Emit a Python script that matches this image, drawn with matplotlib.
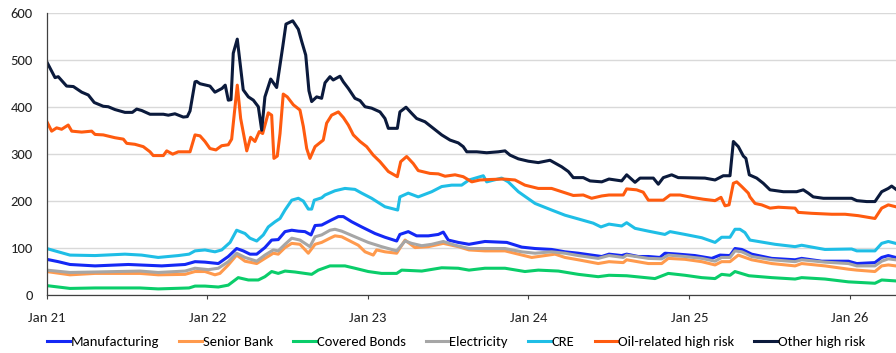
import matplotlib
matplotlib.use("Agg")
import matplotlib.pyplot as plt
import matplotlib.dates as mdates
import pandas as pd

# Spread series, bp. Times are decimal years.
manufacturing_t = [2021.000, 2021.072, 2021.145, 2021.301, 2021.508, 2021.716, 2021.861, 2021.923, 2021.985,
                   2022.068, 2022.130, 2022.182, 2022.223, 2022.265, 2022.307, 2022.358, 2022.400, 2022.441, 2022.483,
                   2022.525, 2022.566, 2022.607, 2022.645, 2022.670, 2022.711, 2022.773, 2022.815, 2022.846, 2022.898,
                   2022.960, 2023.043, 2023.105, 2023.178, 2023.198, 2023.250, 2023.302, 2023.375, 2023.437, 2023.468,
                   2023.499, 2023.561, 2023.628, 2023.727, 2023.863, 2023.956, 2024.039, 2024.142, 2024.225, 2024.308,
                   2024.412, 2024.454, 2024.499, 2024.578, 2024.609, 2024.681, 2024.744, 2024.816, 2024.847, 2024.930,
                   2025.034, 2025.138, 2025.190, 2025.252, 2025.283, 2025.325, 2025.345, 2025.387, 2025.512, 2025.657,
                   2025.698, 2025.823, 2025.989, 2026.041, 2026.154, 2026.196, 2026.237, 2026.283]
manufacturing_v = [76, 71, 65, 62, 65, 62, 65, 71, 70,
                   67, 82, 99, 94, 87, 87, 101, 117, 118, 135, 138, 136, 135, 128, 148, 149, 160, 167, 167, 156, 145,
                   131, 123, 115, 129, 135, 126, 126, 129, 134, 117, 112, 108, 114, 112, 102,
                   99, 97, 92, 89, 84, 82, 87, 84, 87, 82, 82, 80, 89, 87,
                   84, 78, 85, 84, 99, 97, 94, 87, 78, 75, 78, 72, 72,
                   67, 69, 80, 84, 80]

senior_bank_t = [2021.000, 2021.145, 2021.301, 2021.581, 2021.694, 2021.861, 2021.923, 2021.985,
                 2022.047, 2022.078, 2022.130, 2022.182, 2022.234, 2022.307, 2022.358, 2022.410, 2022.441, 2022.483,
                 2022.525, 2022.576, 2022.628, 2022.670, 2022.711, 2022.763, 2022.794, 2022.836, 2022.939, 2022.981,
                 2023.032, 2023.053, 2023.105, 2023.178, 2023.230, 2023.292, 2023.375, 2023.468, 2023.561, 2023.628,
                 2023.727, 2023.852, 2023.935,
                 2024.018, 2024.101, 2024.163, 2024.225, 2024.308, 2024.432, 2024.499, 2024.588, 2024.609, 2024.744,
                 2024.827, 2024.868, 2024.972,
                 2025.076, 2025.159, 2025.200, 2025.252, 2025.304, 2025.345, 2025.387, 2025.512, 2025.657, 2025.698,
                 2025.843, 2025.989, 2026.041, 2026.154, 2026.196, 2026.237, 2026.283]
senior_bank_v = [50, 43, 46, 46, 43, 44, 50, 50,
                 43, 46, 64, 85, 72, 67, 78, 89, 87, 101, 110, 108, 89, 108, 112, 121, 126, 124, 106, 92,
                 85, 96, 92, 89, 117, 101, 103, 110, 103, 96, 94, 94, 87,
                 80, 84, 87, 80, 75, 67, 71, 69, 75, 67, 67, 78, 76,
                 71, 64, 71, 71, 85, 80, 75, 67, 62, 67, 62, 55,
                 53, 50, 62, 64, 62]

covered_bonds_t = [2021.000, 2021.145, 2021.301, 2021.581, 2021.694, 2021.886, 2021.923, 2021.985,
                   2022.068, 2022.130, 2022.192, 2022.255, 2022.317, 2022.358, 2022.400, 2022.441, 2022.483, 2022.545,
                   2022.607, 2022.649, 2022.690, 2022.763, 2022.794, 2022.856, 2022.918,
                   2023.001, 2023.084, 2023.178, 2023.209, 2023.334, 2023.458, 2023.561, 2023.628, 2023.727, 2023.852,
                   2023.976,
                   2024.059, 2024.184, 2024.308, 2024.432, 2024.499, 2024.609, 2024.785, 2024.868, 2024.972,
                   2025.076, 2025.159, 2025.200, 2025.252, 2025.283, 2025.370, 2025.512, 2025.657, 2025.698, 2025.843,
                   2025.989, 2026.154, 2026.196, 2026.283]
covered_bonds_v = [20, 14, 15, 15, 13, 15, 19, 19,
                   17, 21, 37, 32, 32, 39, 50, 46, 51, 49, 46, 44, 53, 62, 62, 62, 57,
                   50, 46, 46, 53, 51, 58, 57, 53, 57, 57, 50,
                   53, 51, 44, 39, 42, 41, 35, 46, 42,
                   37, 35, 44, 42, 50, 41, 37, 34, 37, 34, 28,
                   25, 32, 30]

electricity_t = [2021.000, 2021.145, 2021.301, 2021.581, 2021.694, 2021.861, 2021.923,
                 2022.006, 2022.068, 2022.130, 2022.182, 2022.234, 2022.307, 2022.358, 2022.410, 2022.441, 2022.483,
                 2022.525, 2022.576, 2022.607, 2022.638, 2022.670, 2022.711, 2022.763, 2022.794, 2022.836, 2022.918,
                 2023.001, 2023.084, 2023.178, 2023.230, 2023.271, 2023.334, 2023.396, 2023.468, 2023.541, 2023.628,
                 2023.727, 2023.852, 2023.956,
                 2024.039, 2024.142, 2024.225, 2024.308, 2024.432, 2024.499, 2024.588, 2024.609, 2024.744, 2024.827,
                 2024.868, 2024.972,
                 2025.076, 2025.159, 2025.200, 2025.252, 2025.283, 2025.325, 2025.345, 2025.387, 2025.512, 2025.657,
                 2025.698, 2025.843, 2025.989, 2026.041, 2026.154, 2026.196, 2026.237, 2026.283]
electricity_v = [53, 48, 49, 51, 48, 51, 57,
                 54, 57, 71, 89, 80, 72, 85, 96, 94, 108, 121, 117, 110, 103, 124, 128, 138, 140, 136, 124,
                 112, 103, 94, 115, 110, 105, 108, 114, 106, 99, 99, 99, 92,
                 89, 92, 89, 84, 78, 84, 80, 85, 78, 77, 85, 82,
                 78, 72, 80, 80, 94, 92, 89, 82, 75, 71, 75, 70, 67,
                 62, 62, 72, 77, 75]

cre_t = [2021.000, 2021.072, 2021.145, 2021.301, 2021.487, 2021.591, 2021.694, 2021.819, 2021.886, 2021.923, 2021.985,
         2022.047, 2022.089, 2022.141, 2022.182, 2022.234, 2022.265, 2022.307, 2022.348, 2022.379, 2022.421, 2022.452,
         2022.483, 2022.525, 2022.566, 2022.597, 2022.628, 2022.649, 2022.665, 2022.711, 2022.732, 2022.794, 2022.856,
         2022.918, 2022.960,
         2023.022, 2023.105, 2023.184, 2023.198, 2023.250, 2023.312, 2023.396, 2023.458, 2023.520, 2023.582, 2023.628,
         2023.717, 2023.738, 2023.831, 2023.872, 2023.935,
         2024.039, 2024.142, 2024.225, 2024.329, 2024.401, 2024.449, 2024.499, 2024.578, 2024.609, 2024.661, 2024.744,
         2024.847, 2024.879, 2024.972,
         2025.076, 2025.159, 2025.200, 2025.252, 2025.283, 2025.314, 2025.345, 2025.376, 2025.428, 2025.532, 2025.657,
         2025.698, 2025.843,
         2026.009, 2026.041, 2026.154, 2026.196, 2026.237, 2026.283]
cre_v = [99, 92, 85, 84, 87, 85, 80, 84, 87, 94, 96,
         92, 96, 112, 138, 131, 121, 115, 128, 145, 156, 163, 181, 202, 206, 200, 183, 183, 202, 207, 213, 222, 227,
         225, 217,
         206, 188, 181, 209, 217, 209, 220, 231, 234, 234, 245, 254, 241, 249, 241, 220,
         195, 181, 170, 160, 153, 145, 151, 147, 154, 142, 136, 129, 135, 129,
         122, 112, 123, 123, 140, 140, 133, 117, 114, 108, 103, 106, 97,
         98, 94, 94, 110, 114, 110]

oil_t = [2021.000, 2021.031, 2021.062, 2021.093, 2021.134, 2021.156, 2021.218, 2021.280, 2021.301, 2021.352,
         2021.425, 2021.477, 2021.498, 2021.549, 2021.601, 2021.643, 2021.663, 2021.726, 2021.747, 2021.784,
         2021.819, 2021.892, 2021.923, 2021.954, 2021.985,
         2022.016, 2022.053, 2022.089, 2022.130, 2022.151, 2022.186, 2022.207, 2022.245, 2022.269, 2022.296,
         2022.323, 2022.344, 2022.379, 2022.400, 2022.414, 2022.435, 2022.452, 2022.472, 2022.497, 2022.535,
         2022.576, 2022.597, 2022.618, 2022.638, 2022.670, 2022.721, 2022.742, 2022.773, 2022.815, 2022.846,
         2022.877, 2022.908, 2022.950, 2022.991,
         2023.032, 2023.074, 2023.126, 2023.182, 2023.203, 2023.240, 2023.281, 2023.312, 2023.385, 2023.437,
         2023.479, 2023.541, 2023.592, 2023.645, 2023.696, 2023.759, 2023.842, 2023.914, 2023.976,
         2024.059, 2024.142, 2024.205, 2024.277, 2024.339, 2024.391, 2024.454, 2024.499, 2024.588, 2024.609,
         2024.671, 2024.712, 2024.744, 2024.837, 2024.879, 2024.941,
         2025.014, 2025.086, 2025.159, 2025.196, 2025.221, 2025.246, 2025.273, 2025.294, 2025.325, 2025.366,
         2025.376, 2025.408, 2025.449, 2025.501, 2025.553, 2025.657, 2025.677, 2025.760, 2025.885, 2025.968,
         2026.050, 2026.154, 2026.196, 2026.237, 2026.283]
oil_v = [370, 349, 356, 353, 362, 349, 347, 349, 342, 341, 335, 332, 323, 321, 316, 305, 297, 297, 307, 300,
         305, 305, 341, 339, 327,
         312, 309, 318, 320, 332, 447, 376, 307, 336, 327, 348, 344, 388, 383, 291, 296, 344, 428, 422, 405,
         394, 359, 312, 291, 316, 330, 366, 383, 390, 378, 362, 341, 327, 316,
         298, 284, 263, 252, 284, 295, 280, 265, 259, 258, 253, 256, 252, 241, 245, 246, 247, 245, 234,
         227, 227, 220, 212, 213, 206, 211, 213, 213, 226, 224, 219, 202, 202, 213, 213,
         208, 204, 201, 208, 190, 192, 238, 241, 231, 217, 209, 195, 192, 185, 187, 185, 176, 174, 172, 172,
         169, 163, 185, 192, 188]

other_t = [2021.000, 2021.052, 2021.072, 2021.124, 2021.166, 2021.218, 2021.259, 2021.296, 2021.352, 2021.383,
           2021.425, 2021.487, 2021.533, 2021.560, 2021.591, 2021.643, 2021.726, 2021.757, 2021.798, 2021.850,
           2021.875, 2021.892, 2021.923, 2021.933, 2021.954,
           2022.016, 2022.047, 2022.091, 2022.111, 2022.130, 2022.147, 2022.161, 2022.186, 2022.223, 2022.255,
           2022.286, 2022.317, 2022.338, 2022.358, 2022.394, 2022.431, 2022.469, 2022.489, 2022.531, 2022.566,
           2022.587, 2022.612, 2022.632, 2022.649, 2022.680, 2022.711, 2022.732, 2022.763, 2022.783, 2022.825,
           2022.846, 2022.877, 2022.918, 2022.950, 2022.981,
           2023.022, 2023.074, 2023.105, 2023.126, 2023.182, 2023.198, 2023.236, 2023.271, 2023.302, 2023.354,
           2023.406, 2023.458, 2023.510, 2023.561, 2023.592, 2023.614, 2023.676, 2023.738, 2023.810, 2023.852,
           2023.883, 2023.935, 2023.997,
           2024.059, 2024.132, 2024.205, 2024.246, 2024.277, 2024.339, 2024.381, 2024.454, 2024.499, 2024.578,
           2024.609, 2024.661, 2024.692, 2024.775, 2024.806, 2024.837, 2024.889, 2024.930,
           2025.096, 2025.159, 2025.210, 2025.252, 2025.273, 2025.304, 2025.335, 2025.351, 2025.372, 2025.418,
           2025.459, 2025.501, 2025.584, 2025.667, 2025.708, 2025.739, 2025.770, 2025.833,
           2026.009, 2026.041, 2026.103, 2026.154, 2026.196, 2026.237, 2026.258, 2026.285]
other_v = [497, 463, 465, 445, 444, 432, 426, 410, 402, 401, 395, 389, 389, 396, 393, 385, 385, 383, 386, 379,
           380, 392, 454, 455, 450,
           445, 432, 440, 447, 415, 416, 515, 545, 437, 422, 415, 401, 351, 422, 460, 442, 529, 577, 584, 566,
           540, 511, 435, 412, 422, 419, 452, 465, 458, 466, 454, 440, 419, 414, 401,
           398, 390, 376, 355, 355, 390, 400, 387, 376, 369, 355, 341, 330, 324, 316, 305, 305, 303, 305, 307,
           298, 290, 285,
           282, 287, 273, 263, 250, 250, 243, 241, 247, 243, 256, 240, 249, 249, 236, 250, 256, 250,
           249, 245, 254, 254, 327, 316, 296, 291, 256, 249, 238, 224, 220, 220, 224, 217, 209, 206,
           206, 201, 199, 199, 220, 227, 232, 225]

series_names = ["Manufacturing", "Senior Bank", "Covered Bonds", "Electricity", "CRE",
                "Oil-related high risk", "Other high risk"]
series_times = [manufacturing_t, senior_bank_t, covered_bonds_t, electricity_t, cre_t, oil_t, other_t]
series_values = [manufacturing_v, senior_bank_v, covered_bonds_v, electricity_v, cre_v, oil_v, other_v]
series_colors = ["#1428F5", "#FF9A4D", "#0ACD6A", "#A6A6A6", "#1FBEE6", "#FF5B0F", "#0B1A3C"]

y_ticks = [0, 100, 200, 300, 400, 500, 600]


def to_dates(years):
    start = pd.Timestamp("2021-01-01")
    return [start + pd.Timedelta(days=(y - 2021.0) * 365.25) for y in years]


plt.rcParams["font.family"] = ["Carlito", "Lato", "DejaVu Sans"]

fig = plt.figure(figsize=(8.96, 3.53), dpi=100)
ax = fig.add_axes([0.0521, 0.1643, 0.9479, 0.798])

for name, t, v, c in zip(series_names, series_times, series_values, series_colors):
    ax.plot(to_dates(t), v, color=c, lw=2.2, label=name, solid_joinstyle="round")

ax.set_ylim(0, 600)
ax.set_yticks(y_ticks)
ax.set_xlim(pd.Timestamp("2021-01-01"), to_dates([other_t[-1]])[0])
ax.xaxis.set_major_locator(mdates.YearLocator())
ax.xaxis.set_major_formatter(mdates.DateFormatter("%b %y"))

ax.grid(axis="y", color="#D9D9D9", lw=1.0)
ax.set_axisbelow(True)
for side in ("top", "right"):
    ax.spines[side].set_visible(False)
for side in ("left", "bottom"):
    ax.spines[side].set_color("#404040")
    ax.spines[side].set_linewidth(0.9)

ax.tick_params(axis="y", length=0, pad=10, labelsize=10.5, labelcolor="#222222")
ax.tick_params(axis="x", direction="out", length=3, color="#404040", pad=9, labelsize=10.5,
               labelcolor="#222222")

fig.legend(loc="center", bbox_to_anchor=(0.509, 0.031), ncol=7, frameon=False, fontsize=10.5,
           handlelength=1.55, handletextpad=0.05, columnspacing=1.4, borderaxespad=0)

fig.savefig("out.png", dpi=100)
